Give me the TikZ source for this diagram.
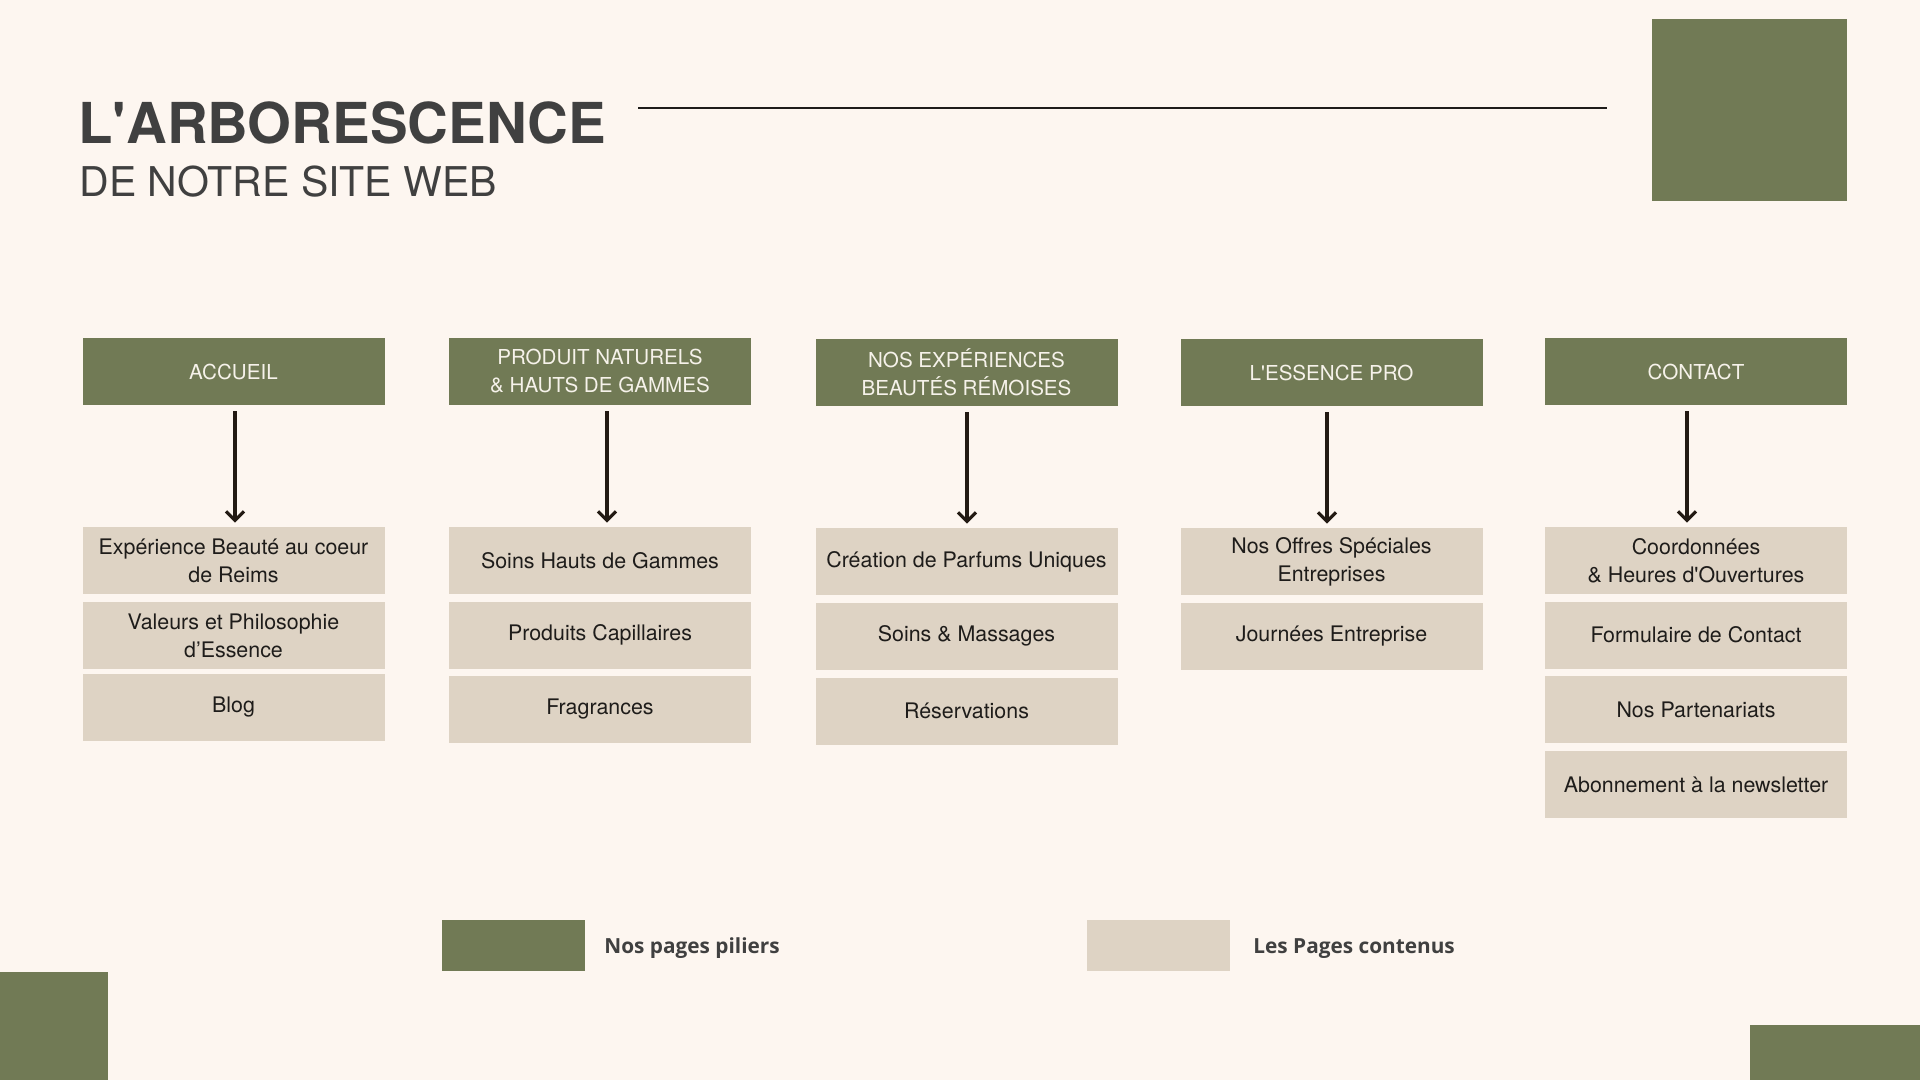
\documentclass[tikz,border=0pt]{standalone}
\usepackage{fontspec}
\setmainfont{TeX Gyre Heros}[Ligatures=TeXOff]
\newfontfamily\legendfont{Open Sans}
\usetikzlibrary{arrows.meta}
\definecolor{bg}{RGB}{253,246,240}
\definecolor{olive}{RGB}{113,122,85}
\definecolor{sand}{RGB}{222,211,196}
\definecolor{ink}{RGB}{30,28,26}
\definecolor{titlegray}{RGB}{64,64,64}
\definecolor{arrowc}{RGB}{35,26,19}
\definecolor{pillartext}{RGB}{246,242,234}
\tikzset{
  pillar/.style={fill=olive, minimum width=151pt, minimum height=33.5pt, inner sep=0pt,
    align=center, text=pillartext, font=\fontsize{10.3}{14}\selectfont},
  content/.style={fill=sand, minimum width=151pt, minimum height=33.5pt, inner sep=0pt,
    align=center, text=ink, font=\fontsize{10.7}{14}\selectfont},
  link/.style={draw=arrowc, line width=1.6pt, -{Straight Barb[length=4.5pt,width=9pt]}},
  legendbox/.style={minimum width=71.5pt, minimum height=25.5pt, inner sep=0pt},
  legendtxt/.style={anchor=west, inner sep=0pt, text=titlegray,
    font=\legendfont\bfseries\fontsize{10.4}{13}\selectfont}
}
\begin{document}
\begin{tikzpicture}[x=0.5pt,y=-0.5pt]
\useasboundingbox (0,0) rectangle (1920,1080);
\fill[bg] (0,0) rectangle (1920,1080);
% decorative squares
\fill[olive] (1652,19) rectangle (1847,201);
\fill[olive] (0,972) rectangle (108,1080);
\fill[olive] (1750,1025) rectangle (1920,1080);
% title
\node[anchor=base west, inner sep=0pt, text=titlegray, font=\bfseries\fontsize{28.2}{30}\selectfont] (title) at (78,144) {L'ARBORESCENCE};
\node[anchor=base west, inner sep=0pt, text=titlegray, font=\fontsize{20.5}{24}\selectfont] (subtitle) at (79,197) {DE NOTRE SITE WEB};
\coordinate (l1) at (638,108);
\coordinate (l2) at (1607,108);
\draw[line width=1pt, draw=ink] (l1) -- (l2);
% column 1
\node[pillar] (h1) at (233.5,371.5) {ACCUEIL};
\node[content] (c11) at (233.5,560.5) {Expérience Beauté au coeur\\de Reims};
\node[content] (c12) at (233.5,635.5) {Valeurs et Philosophie\\d’Essence};
\node[content] (c13) at (233.5,707.5) {Blog};
% column 2
\node[pillar] (h2) at (600,371.5) {PRODUIT NATURELS\\\& HAUTS DE GAMMES};
\node[content] (c21) at (600,560.5) {Soins Hauts de Gammes};
\node[content] (c22) at (600,635) {Produits Capillaires};
\node[content] (c23) at (600,709.5) {Fragrances};
% column 3
\node[pillar] (h3) at (966.5,372.5) {NOS EXPÉRIENCES\\BEAUTÉS RÉMOISES};
\node[content] (c31) at (966.5,561.5) {Création de Parfums Uniques};
\node[content] (c32) at (966.5,636) {Soins \& Massages};
\node[content] (c33) at (966.5,711) {Réservations};
% column 4
\node[pillar] (h4) at (1331.5,372.5) {L'ESSENCE PRO};
\node[content] (c41) at (1331.5,561.5) {Nos Offres Spéciales\\Entreprises};
\node[content] (c42) at (1331.5,636) {Journées Entreprise};
% column 5
\node[pillar] (h5) at (1696,371.5) {CONTACT};
\node[content] (c51) at (1696,560.5) {Coordonnées\\\& Heures d'Ouvertures};
\node[content] (c52) at (1696,635) {Formulaire de Contact};
\node[content] (c53) at (1696,709.5) {Nos Partenariats};
\node[content] (c54) at (1696,784.5) {Abonnement à la newsletter};
% arrows
\draw[link] ([xshift=0.75pt,yshift=-3pt]h1.south) -- ([xshift=0.75pt,yshift=2pt]c11.north);
\draw[link] ([xshift=3.5pt,yshift=-3pt]h2.south) -- ([xshift=3.5pt,yshift=2pt]c21.north);
\draw[link] ([xshift=0.25pt,yshift=-3pt]h3.south) -- ([xshift=0.25pt,yshift=2pt]c31.north);
\draw[link] ([xshift=-2.25pt,yshift=-3pt]h4.south) -- ([xshift=-2.25pt,yshift=2pt]c41.north);
\draw[link] ([xshift=-4.5pt,yshift=-3pt]h5.south) -- ([xshift=-4.5pt,yshift=2pt]c51.north);
% legend
\node[legendbox, fill=olive] (lg1) at (513.5,945.5) {};
\node[legendtxt] (lt1) at (604,948.5) {Nos pages piliers};
\node[legendbox, fill=sand] (lg2) at (1158.5,945.5) {};
\node[legendtxt] (lt2) at (1253,948.5) {Les Pages contenus};
\end{tikzpicture}
\end{document}
